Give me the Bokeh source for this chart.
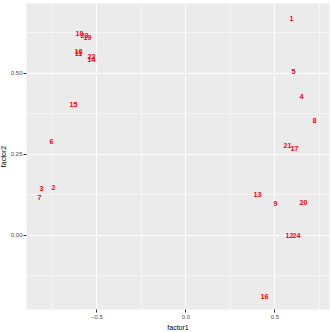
from bokeh.plotting import figure
from bokeh.models import ColumnDataSource, Range1d, FixedTicker
from bokeh.core.properties import value
from bokeh.embed import file_html
from bokeh.resources import INLINE

labels = ["1", "2", "3", "4", "5", "6", "7", "8", "9", "10", "11", "12",
          "13", "14", "15", "16", "17", "18", "19", "20", "21", "22", "23", "24"]
factor1 = [0.594, -0.744, -0.811, 0.650, 0.605, -0.755, -0.822, 0.723, 0.504, -0.597, -0.603, 0.583,
           0.403, -0.530, -0.631, 0.442, 0.611, -0.603, -0.552, 0.661, 0.571, -0.530, -0.569, 0.622]
factor2 = [0.670, 0.147, 0.143, 0.427, 0.504, 0.288, 0.115, 0.353, 0.098, 0.621, 0.562, -0.001,
           0.125, 0.541, 0.402, -0.189, 0.267, 0.568, 0.611, 0.101, 0.276, 0.550, 0.617, -0.001]

x_ticks = [-0.5, 0.0, 0.5]
x_minor = [-0.75, -0.25, 0.25, 0.75]
y_ticks = [0.0, 0.25, 0.5]
y_minor = [-0.125, 0.125, 0.375, 0.625]

src = ColumnDataSource(dict(x=factor1, y=factor2, t=labels))

p = figure(frame_width=303, frame_height=306, output_backend="svg", toolbar_location=None,
           x_range=Range1d(-0.895, 0.807), y_range=Range1d(-0.229, 0.715),
           background_fill_color="#EBEBEB", border_fill_color="white",
           min_border_left=0, min_border_right=2, min_border_top=3, min_border_bottom=21,
           outline_line_color=None)
p.styles = {"margin-left": "-4px"}

p.xaxis.ticker = FixedTicker(ticks=x_ticks, minor_ticks=x_minor)
p.yaxis.ticker = FixedTicker(ticks=y_ticks, minor_ticks=y_minor)
p.xaxis.major_label_overrides = {-0.5: "\u22120.5", 0.0: "0.0", 0.5: "0.5"}
p.yaxis.major_label_overrides = {0.0: "0.00", 0.25: "0.25", 0.5: "0.50"}

for ax in (p.xaxis, p.yaxis):
    ax.axis_line_color = None
    ax.major_tick_line_color = "#333333"
    ax.major_tick_out = 3
    ax.major_tick_in = 0
    ax.minor_tick_line_color = None
    ax.major_label_text_font = "Liberation Sans"
    ax.major_label_text_font_size = "6px"
    ax.major_label_text_color = "#4D4D4D"
    ax.major_label_standoff = 1
    ax.axis_label_text_font = "Liberation Sans"
    ax.axis_label_text_font_size = "7px"
    ax.axis_label_text_font_style = "normal"
    ax.axis_label_text_color = "black"
    ax.axis_label_standoff = 2

p.yaxis.major_label_standoff = 0
p.yaxis.axis_label_standoff = 1

p.xaxis.axis_label = "factor1"
p.yaxis.axis_label = "factor2"

p.xgrid.grid_line_color = "white"
p.ygrid.grid_line_color = "white"
p.xgrid.grid_line_width = 1.1
p.ygrid.grid_line_width = 1.1
p.xgrid.minor_grid_line_color = "white"
p.ygrid.minor_grid_line_color = "white"
p.xgrid.minor_grid_line_width = 0.5
p.ygrid.minor_grid_line_width = 0.5

p.text(x="x", y="y", text="t", source=src, text_color="red",
       text_font=value("Liberation Sans"), text_font_style="bold",
       text_font_size="7.2px", text_align="center", text_baseline="middle")

open("out.html", "w").write(file_html(p, INLINE))
